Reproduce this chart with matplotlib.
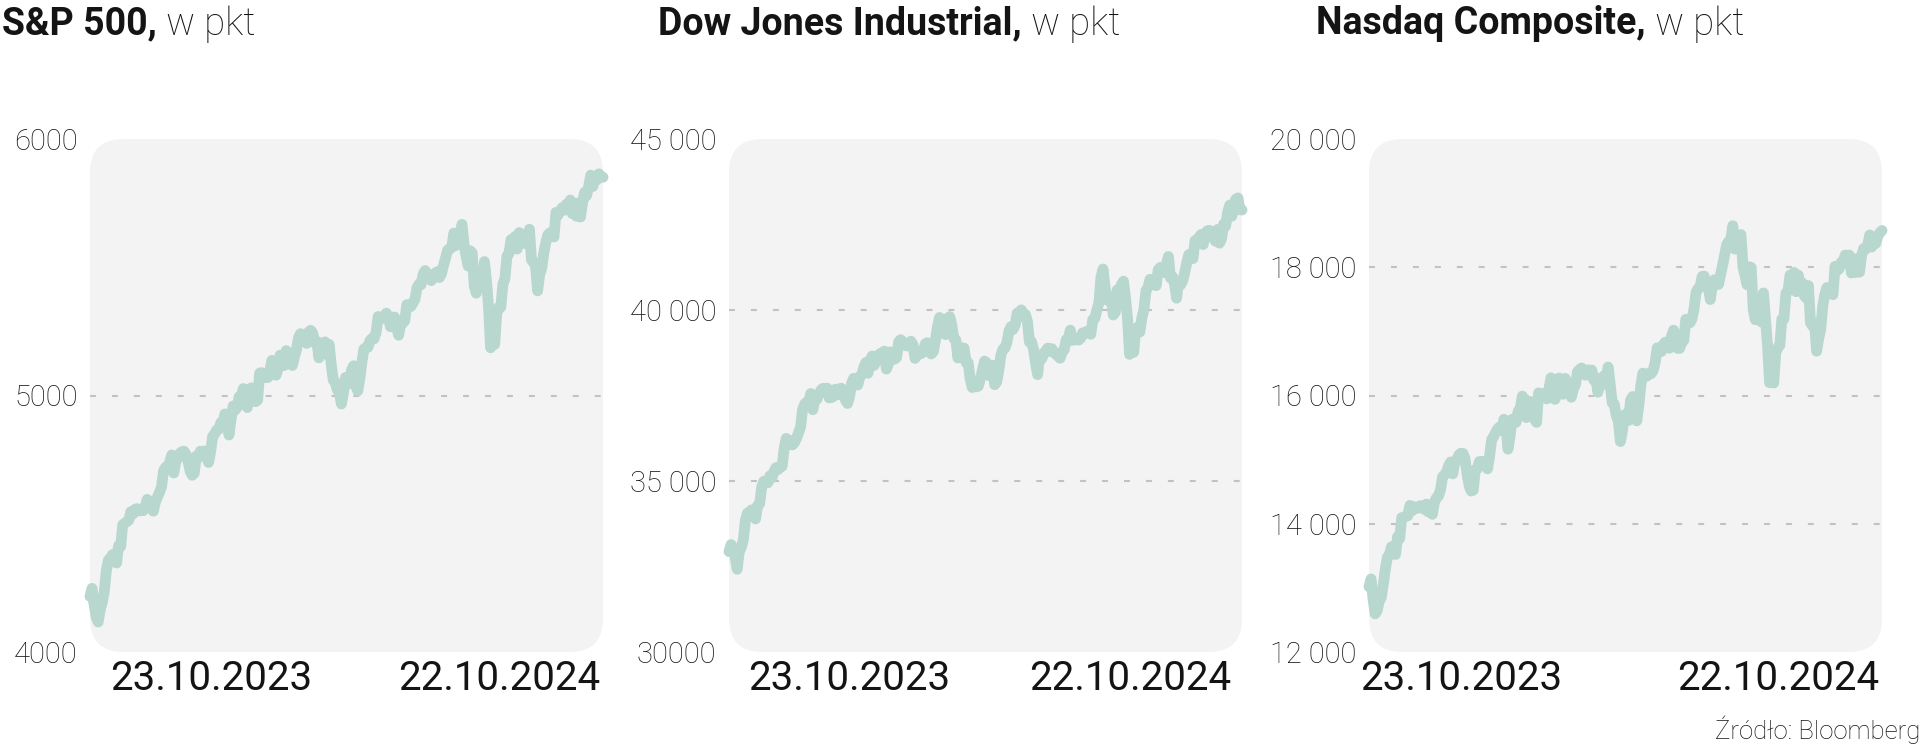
import numpy as np
import matplotlib
matplotlib.use('Agg')
import matplotlib.pyplot as plt
from matplotlib.patches import FancyBboxPatch

# daily closes, 23.10.2023 - 22.10.2024
sp500 = [
    4217, 4248, 4186, 4137, 4117, 4166, 4194,
    4237, 4318, 4358, 4366, 4379, 4383, 4347, 4415, 4411, 4496, 4502, 4508, 4514, 4547, 4538, 4556, 4559, 4550, 4555, 4551, 4568,
    4595, 4569, 4567, 4549, 4585, 4604, 4622, 4644, 4707, 4720, 4719, 4740, 4768, 4698, 4746, 4755, 4775, 4781, 4783, 4770,
    4743, 4705, 4689, 4697, 4764, 4757, 4783, 4780, 4784, 4766, 4739, 4780, 4840, 4850, 4865, 4869, 4894, 4891, 4928, 4925, 4846,
    4906, 4959, 4943, 4954, 4995, 4998, 5027, 5022, 4953, 5001, 5030, 5006, 4976, 4982, 5087, 5089, 5070, 5078, 5070, 5096,
    5137, 5131, 5079, 5105, 5157, 5124, 5117, 5175, 5165, 5150, 5117, 5149, 5178, 5225, 5241, 5234, 5218, 5203, 5248, 5254,
    5243, 5205, 5211, 5147, 5204, 5202, 5209, 5160, 5199, 5123, 5061, 5051, 5022, 5011, 4967, 5010, 5070, 5072, 5048, 5100, 5116, 5036,
    5018, 5064, 5128, 5181, 5187, 5188, 5214, 5223, 5221, 5247, 5308, 5297, 5303, 5308, 5321, 5307, 5268, 5305, 5306, 5267, 5235, 5278,
    5283, 5291, 5354, 5352, 5347, 5361, 5375, 5421, 5434, 5432, 5473, 5487, 5473, 5464, 5448, 5469, 5478, 5483, 5460,
    5475, 5509, 5537, 5567, 5572, 5577, 5633, 5585, 5615, 5631, 5667, 5589, 5544, 5505, 5564, 5556, 5427, 5399, 5459, 5464, 5436, 5522,
    5446, 5346, 5186, 5240, 5199, 5319, 5344, 5344, 5434, 5455, 5543, 5554, 5608, 5597, 5620, 5571, 5635, 5617, 5626, 5592, 5592, 5648,
    5529, 5520, 5503, 5408, 5471, 5496, 5554, 5596, 5626, 5634, 5634, 5618, 5714, 5703, 5719, 5732, 5722, 5745, 5738, 5762,
    5709, 5710, 5699, 5751, 5696, 5751, 5792, 5780, 5815, 5859, 5815, 5843, 5841, 5864, 5853, 5851,
]

dow = [
    32937, 33141, 33035, 32784, 32418, 32929, 33053,
    33275, 33839, 34061, 34096, 34153, 34112, 33892, 34283, 34337, 34828, 34991, 34945, 34947, 35151, 35088, 35273, 35390, 35333, 35417, 35430, 35951,
    36246, 36204, 36125, 36054, 36118, 36248, 36405, 36577, 37090, 37248, 37306, 37306, 37558, 37083, 37405, 37386, 37545, 37657, 37710, 37690,
    37715, 37430, 37440, 37466, 37683, 37525, 37696, 37711, 37593, 37361, 37267, 37469, 37864, 38002, 37906, 37807, 38050, 38109, 38333, 38467, 38150,
    38520, 38654, 38380, 38521, 38677, 38726, 38672, 38797, 38273, 38424, 38773, 38628, 38564, 38612, 39069, 39131, 39069, 38972, 38949, 38996,
    39087, 38990, 38585, 38661, 38791, 38723, 38770, 39005, 39043, 38906, 38715, 38790, 39111, 39512, 39781, 39476, 39314, 39282, 39760, 39807,
    39567, 39170, 39127, 38597, 38904, 38892, 38884, 38462, 38459, 37983, 37735, 37799, 37753, 37775, 37986, 38240, 38504, 38461, 38086, 38240, 38386, 37816,
    37903, 38226, 38676, 38852, 38884, 39056, 39388, 39513, 39432, 39558, 39908, 39869, 40004, 39807, 39873, 39671, 39065, 39070, 38853, 38442, 38112, 38686,
    38571, 38711, 38807, 38886, 38799, 38868, 38747, 38712, 38648, 38589, 38778, 38834, 39134, 39150, 39411, 39112, 39127, 39164, 39119,
    39170, 39331, 39308, 39375, 39344, 39291, 39721, 39753, 40001, 40212, 40954, 41198, 40665, 40288, 40415, 40358, 39854, 39935, 40589, 40540, 40743, 40843,
    40348, 39737, 38703, 38997, 38763, 39446, 39498, 39357, 39766, 40009, 40563, 40660, 40897, 40835, 40890, 40713, 41175, 41241, 41250, 41091, 41336, 41563,
    40937, 40975, 40756, 40345, 40830, 40737, 40861, 41097, 41394, 41622, 41606, 41504, 42025, 42063, 42125, 42208, 41915, 42175, 42313, 42330,
    42156, 42197, 42012, 42353, 41955, 42080, 42512, 42454, 42864, 43065, 42740, 43077, 43239, 43276, 42931, 42925,
]

nasdaq = [
    13019, 13139, 12821, 12596, 12643, 12789, 12851,
    13061, 13294, 13478, 13518, 13640, 13650, 13521, 13798, 13768, 14094, 14104, 14114, 14126, 14285, 14200, 14266, 14250, 14242, 14282, 14258, 14226,
    14306, 14185, 14230, 14147, 14340, 14404, 14432, 14533, 14734, 14762, 14814, 14905, 14964, 14778, 14964, 14993, 15074, 15100, 15096, 15011,
    14766, 14592, 14510, 14524, 14843, 14858, 14970, 14970, 14973, 14944, 14856, 15056, 15311, 15360, 15426, 15482, 15511, 15455, 15628, 15509, 15164,
    15361, 15629, 15597, 15583, 15757, 15794, 15990, 15943, 15656, 15859, 15906, 15776, 15631, 15581, 16041, 15997, 16028, 16035, 15948, 16092,
    16275, 16207, 15940, 16032, 16273, 16085, 16020, 16266, 16178, 16129, 15973, 16103, 16167, 16369, 16402, 16429, 16385, 16316, 16400, 16379,
    16397, 16240, 16277, 16050, 16249, 16254, 16307, 16170, 16443, 16175, 15885, 15866, 15683, 15601, 15282, 15451, 15697, 15713, 15611, 15928, 15983, 15658,
    15605, 15841, 16156, 16349, 16333, 16302, 16346, 16340, 16388, 16511, 16743, 16698, 16686, 16795, 16833, 16801, 16737, 16921, 17019, 16921, 16737, 16735,
    16829, 16857, 17187, 17173, 17133, 17192, 17343, 17608, 17667, 17689, 17857, 17862, 17721, 17689, 17497, 17717, 17805, 17805, 17733,
    17879, 18029, 18188, 18352, 18403, 18429, 18647, 18283, 18398, 18473, 18509, 17996, 17871, 17727, 18008, 17997, 17342, 17182, 17358, 17370, 17147, 17599,
    17195, 16776, 16200, 16366, 16195, 16661, 16745, 16781, 17188, 17192, 17595, 17631, 17877, 17817, 17919, 17619, 17878, 17726, 17754, 17556, 17516, 17714,
    17136, 17084, 17127, 16691, 16885, 17026, 17396, 17570, 17683, 17593, 17628, 17573, 18014, 17948, 17974, 18075, 18082, 18190, 18119, 18189,
    17910, 17925, 17918, 18138, 17923, 18183, 18291, 18282, 18343, 18503, 18316, 18367, 18374, 18490, 18540, 18573,
]

titles = ['S&P 500,', 'Dow Jones Industrial,', 'Nasdaq Composite,']
title_unit = ' w pkt'
date_labels = ['23.10.2023', '22.10.2024']

sp500_ticks = [4000, 5000, 6000]
sp500_ticklabels = ['4000', '5000', '6000']
dow_ticks = [30000, 35000, 40000, 45000]
dow_ticklabels = ['30000', '35 000', '40 000', '45 000']
nasdaq_ticks = [12000, 14000, 16000, 18000, 20000]
nasdaq_ticklabels = ['12 000', '14 000', '16 000', '18 000', '20 000']

source = 'Źródło: Bloomberg'

# style
plt.rcParams['font.family'] = ['Roboto', 'DejaVu Sans']
plt.rcParams['lines.scale_dashes'] = False
LINE = '#b8d7ce'
BG = '#f3f3f3'
TXT = '#141414'
GRID = '#c2c2c2'

W, H = 1920, 747
fig = plt.figure(figsize=(W / 100, H / 100), dpi=100)


def px_box(x0, y0, x1, y1):
    return [x0 / W, 1 - y1 / H, (x1 - x0) / W, (y1 - y0) / H]


panels = [
    (sp500, sp500_ticks, sp500_ticklabels),
    (dow, dow_ticks, dow_ticklabels),
    (nasdaq, nasdaq_ticks, nasdaq_ticklabels),
]
ax_left = [90, 729, 1369]
title_x = [2, 658, 1316]
date_x = [(110, 600), (748, 1231), (1360, 1879)]

renderer = fig.canvas.get_renderer()

for i, (vals, ticks, tlabels) in enumerate(panels):
    ax = fig.add_axes(px_box(ax_left[i], 139, ax_left[i] + 513, 652))
    x = np.arange(len(vals))
    ax.set_xlim(0, len(vals) - 1)
    ax.set_ylim(ticks[0], ticks[-1])
    ax.patch.set_visible(False)
    for s in ax.spines.values():
        s.set_visible(False)

    # rounded grey box behind the line
    bg = FancyBboxPatch((0, 0), 1, 1, boxstyle='round,pad=0,rounding_size=0.065',
                        transform=ax.transAxes, fc=BG, ec='none', zorder=0, clip_on=False)
    ax.add_patch(bg)

    for t in ticks[1:-1]:
        ax.axhline(t, color=GRID, lw=1.5, dashes=(4.3, 11.5), zorder=1)

    ax.plot(x, vals, color=LINE, lw=7.8, solid_joinstyle='round',
            solid_capstyle='round', zorder=2, clip_on=False)

    ax.set_xticks([])
    ax.set_yticks(ticks, tlabels, fontsize=21, fontweight='light', color=TXT)
    ax.tick_params(axis='y', length=0, pad=9)

    # title: bold name + light unit
    t1 = fig.text(title_x[i] / W, 1 - 24 / H, titles[i], fontsize=27, fontweight='bold',
                  color=TXT, ha='left', va='center')
    bb = t1.get_window_extent(renderer)
    fig.text(bb.x1 / W, 1 - 24 / H, title_unit, fontsize=27.5, fontweight='light',
             color=TXT, ha='left', va='center')

    fig.text(date_x[i][0] / W, 1 - 678 / H, date_labels[0], fontsize=29,
             color=TXT, ha='left', va='center')
    fig.text(date_x[i][1] / W, 1 - 678 / H, date_labels[1], fontsize=29,
             color=TXT, ha='right', va='center')

fig.text(1.0, 1 - 730 / H, source, fontsize=18.5, fontweight='light', color=TXT,
         ha='right', va='center')

fig.savefig('out.png', dpi=100)
